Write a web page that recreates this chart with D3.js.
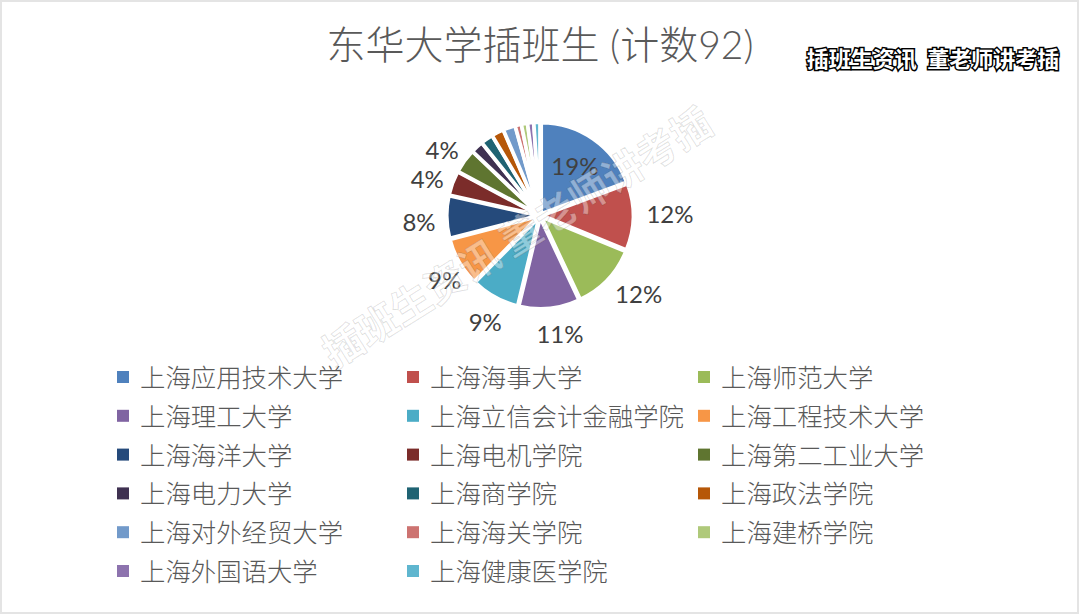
<!DOCTYPE html>
<html lang="zh">
<head>
<meta charset="UTF-8">
<title>东华大学插班生</title>
<style>
    html, body { margin: 0; padding: 0; background: #fff; }
    svg { display: block; }
    text { font-family: Lato, "Noto Sans CJK SC", sans-serif; }
</style>
</head>
<body>
<svg id="chart" width="1080" height="614"></svg>
<script src="https://d3js.org/d3.v7.min.js"></script>
<script>
// 各院校人数, 从饼图角度读出
const schools = ["上海应用技术大学", "上海海事大学", "上海师范大学", "上海理工大学", "上海立信会计金融学院",
    "上海工程技术大学", "上海海洋大学", "上海电机学院", "上海第二工业大学", "上海电力大学", "上海商学院",
    "上海政法学院", "上海对外经贸大学", "上海海关学院", "上海建桥学院", "上海外国语大学", "上海健康医学院"];
const counts = [18, 11, 11, 10, 8, 8, 7, 4, 4, 2, 2, 2, 2, 1, 1, 1, 1];
const colors = ["#4f81bd", "#c0504d", "#9bbb59", "#8064a2", "#4bacc6", "#f79646", "#254a7b", "#7b2c2a",
    "#5f7530", "#3f3151", "#1f6373", "#b65708", "#729aca", "#cd7371", "#afc97a", "#8d73ae", "#5fb6cf"];
const title = "东华大学插班生 (计数92)";
const stamp = "插班生资讯\u00a0\u00a0董老师讲考插";
const watermark = "插班生资讯 董老师讲考插";

const svg = d3.select("#chart");
const width = 1080, height = 614;

svg.append("rect").attr("x", 1).attr("y", 1).attr("width", width - 3).attr("height", height - 2)
    .attr("fill", "#fff").attr("stroke", "#e4e4e4").attr("stroke-width", 2);

svg.append("text").attr("x", 540).attr("y", 59).attr("text-anchor", "middle")
    .attr("font-size", 39).attr("font-weight", 300).attr("fill", "#595959").text(title);

// 饼图
const cx = 540, cy = 215.5, radius = 91, explode = 2.2;
const total = d3.sum(counts);
const pie = d3.pie().sort(null).value(d => d)(counts);
const arc = d3.arc().innerRadius(0).outerRadius(radius);
const midAngle = d => (d.startAngle + d.endAngle) / 2;
const g = svg.append("g").attr("transform", `translate(${cx},${cy})`);

g.selectAll("path").data(pie).join("path")
    .attr("d", arc)
    .attr("fill", (d, i) => colors[i])
    .attr("stroke", "#fff")
    .attr("stroke-width", 3.6)
    .attr("transform", d => `translate(${Math.sin(midAngle(d)) * explode},${-Math.cos(midAngle(d)) * explode})`);

// 百分比标签, 只标前九项; Excel 里的标签位置不太规则, 手动微调
const labelNudge = [[0, 0], [0, -4], [7, -9], [8, 0], [2, 4], [6, 5], [-4, 4], [-3, 4], [-3, 2]];
const pct = d => Math.round(d.value / total * 100) + "%";
g.selectAll("text").data(pie.slice(0, 9)).join("text")
    .attr("transform", (d, i) => {
        const a = midAngle(d);
        // 第一项在扇形内, 其余在外面, 两位数的标签更宽所以再推远一点
        const r = i === 0 ? 61 : 117 + (pct(d).length === 3 ? 13 * Math.abs(Math.sin(a)) : 0);
        return `translate(${Math.sin(a) * r + labelNudge[i][0]},${-Math.cos(a) * r + labelNudge[i][1]})`;
    })
    .attr("text-anchor", "middle").attr("dominant-baseline", "central")
    .attr("font-size", 24).attr("fill", "#404040")
    .text(pct);

// 水印
svg.append("text").attr("transform", "translate(517,237) rotate(-32)").attr("text-anchor", "middle")
    .attr("dominant-baseline", "central").attr("font-size", 40).attr("font-weight", 700)
    .attr("fill", "#fff").attr("fill-opacity", 0.4).attr("stroke", "#000").attr("stroke-opacity", 0.13)
    .attr("stroke-width", 1).text(watermark);

// 右上角文字
svg.append("text").attr("x", 933).attr("y", 67).attr("text-anchor", "middle")
    .attr("font-size", 22).attr("font-weight", 700)
    .attr("fill", "#fff").attr("stroke", "#000").attr("stroke-width", 3).attr("paint-order", "stroke")
    .text(stamp);

// 图例
const columnX = d3.scaleOrdinal().domain([0, 1, 2]).range([117, 407, 698]);
const rowY = d3.scaleLinear().domain([0, 5]).range([377, 571]);
const legend = svg.append("g").selectAll("g").data(schools).join("g")
    .attr("transform", (d, i) => `translate(${columnX(i % 3)},${rowY(Math.floor(i / 3))})`);
legend.append("rect").attr("y", -6).attr("width", 12).attr("height", 12).attr("fill", (d, i) => colors[i]);
legend.append("text").attr("x", 23).attr("y", 0).attr("dominant-baseline", "central")
    .attr("font-size", 25.4).attr("font-weight", 300).attr("fill", "#595959").text(d => d);
</script>
</body>
</html>
